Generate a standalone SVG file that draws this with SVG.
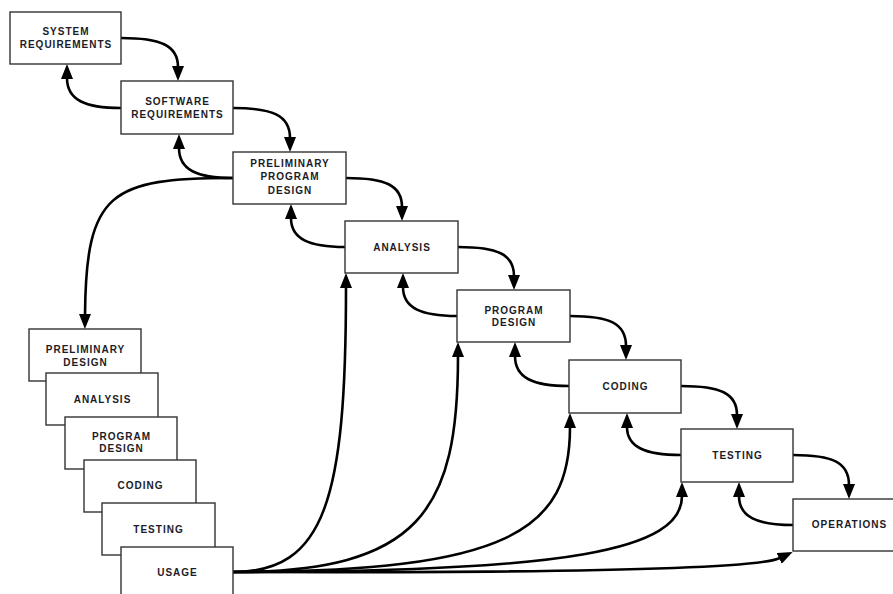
<svg xmlns="http://www.w3.org/2000/svg" width="893" height="594" viewBox="0 0 893 594">
<defs>
<marker id="ah" markerUnits="userSpaceOnUse" viewBox="0 0 15 12" markerWidth="15" markerHeight="12" refX="1" refY="6" orient="auto"><path d="M0,0 L15,6 L0,12 Z" fill="#000"/></marker>
</defs>
<style>
.box rect{fill:#fff;stroke:#333;stroke-width:1.4}
.box text{font-family:"Liberation Sans",Arial,sans-serif;font-weight:bold;font-size:10px;letter-spacing:1px;fill:#1c1c28;text-anchor:middle}
#connectors path{fill:none;stroke:#000;stroke-width:2.6;marker-end:url(#ah)}
</style>
<rect width="893" height="594" fill="#fff"/>
<g id="connectors">
<path d="M121,38 C160,38 178,45 178,67"/>
<path d="M233,108 C272,108 290,115 290,138"/>
<path d="M346,178 C385,178 402,185 402,207"/>
<path d="M458,247 C497,247 514,254 514,276"/>
<path d="M570,316 C609,316 626,323 626,346"/>
<path d="M681,386 C720,386 737,393 737,415"/>
<path d="M793,455 C832,455 849,462 849,485"/>
<path d="M121,108 C85,108 67,100 67,78"/>
<path d="M233,178 C197,178 179,170 179,148"/>
<path d="M345,247 C309,247 291,239 291,218"/>
<path d="M457,316 C421,316 403,308 403,287"/>
<path d="M569,386 C533,386 515,378 515,356"/>
<path d="M681,455 C645,455 627,447 627,427"/>
<path d="M793,525 C757,525 739,517 739,496"/>
<path d="M233,178 C110,178 86,192 85,315"/>
<path d="M233,572 C325,572 346,500 346,287"/>
<path d="M233,572 C420,572 458,510 458,356"/>
<path d="M233,572 C510,572 570,530 570,427"/>
<path d="M233,572 C570,572 682,550 682,496"/>
<path d="M233,572 C520,573 755,570 780,558"/>
</g>
<g id="n-sysreq" class="box"><rect x="10" y="12" width="111" height="52"/><text x="66" y="35">SYSTEM</text><text x="66" y="48">REQUIREMENTS</text></g>
<g id="n-swreq" class="box"><rect x="121" y="81" width="112" height="53"/><text x="177.5" y="104.5">SOFTWARE</text><text x="177.5" y="117.5">REQUIREMENTS</text></g>
<g id="n-ppd" class="box"><rect x="233" y="152" width="113" height="52"/><text x="290" y="167">PRELIMINARY</text><text x="290" y="180">PROGRAM</text><text x="290" y="193.5">DESIGN</text></g>
<g id="n-analysis" class="box"><rect x="345" y="221" width="113" height="52"/><text x="402" y="250.5">ANALYSIS</text></g>
<g id="n-progdesign" class="box"><rect x="457" y="290" width="113" height="52"/><text x="514" y="313.5">PROGRAM</text><text x="514" y="325.5">DESIGN</text></g>
<g id="n-coding" class="box"><rect x="569" y="360" width="112" height="53"/><text x="625.5" y="390">CODING</text></g>
<g id="n-testing" class="box"><rect x="681" y="429" width="112" height="53"/><text x="737.5" y="459">TESTING</text></g>
<g id="n-operations" class="box"><rect x="793" y="499" width="112" height="52"/><text x="849.5" y="528">OPERATIONS</text></g>
<g id="s-prelim" class="box"><rect x="29" y="329" width="112" height="52"/><text x="85.5" y="352.5">PRELIMINARY</text><text x="85.5" y="365.5">DESIGN</text></g>
<g id="s-analysis" class="box"><rect x="46" y="373" width="112" height="52"/><text x="102.5" y="402.5">ANALYSIS</text></g>
<g id="s-progdesign" class="box"><rect x="65" y="417" width="112" height="52"/><text x="121.5" y="439.5">PROGRAM</text><text x="121.5" y="452">DESIGN</text></g>
<g id="s-coding" class="box"><rect x="84" y="460" width="112" height="52"/><text x="140.5" y="489">CODING</text></g>
<g id="s-testing" class="box"><rect x="102" y="503" width="113" height="52"/><text x="158.5" y="533">TESTING</text></g>
<g id="s-usage" class="box"><rect x="121" y="547" width="112" height="52"/><text x="177.5" y="575.5">USAGE</text></g>
</svg>
